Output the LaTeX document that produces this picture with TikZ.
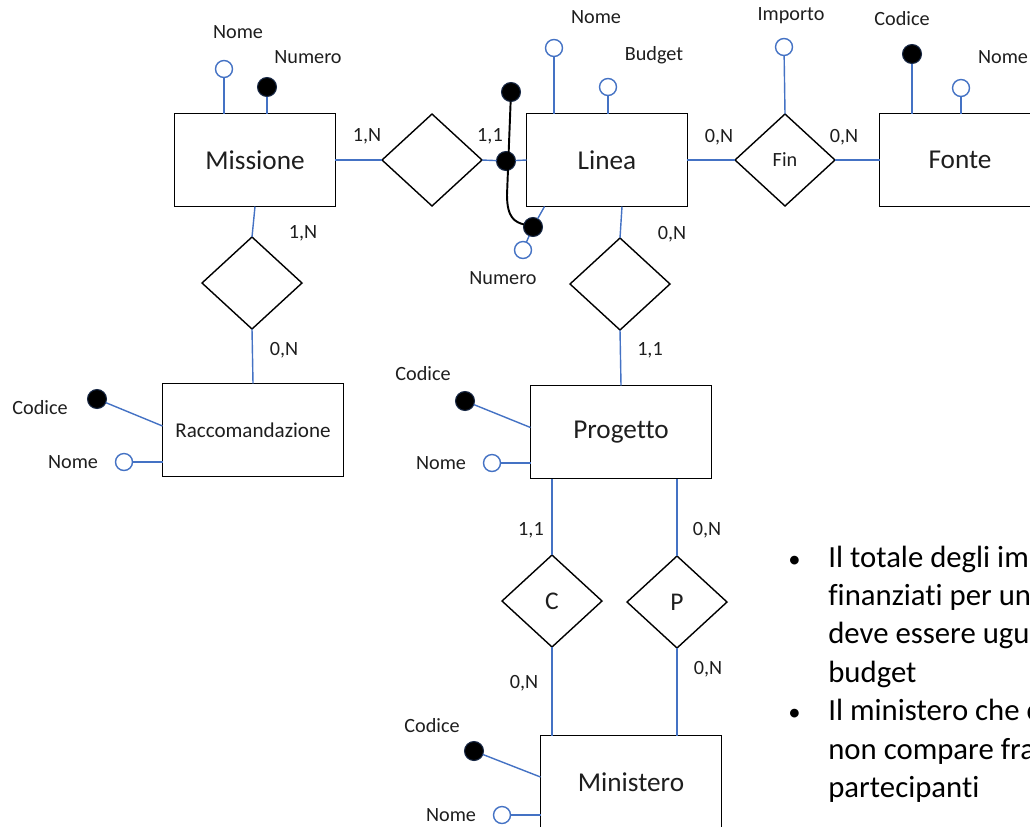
\documentclass[tikz,border=0pt]{standalone}
\usepackage{fontspec}
\setmainfont{Carlito}[Ligatures=NoCommon]
\usetikzlibrary{shapes.geometric}

\definecolor{erblu}{HTML}{4472C4}
\definecolor{testo}{HTML}{1E1E1E}

\newcommand{\punto}{{\fontsize{14}{21.9}\selectfont\textbullet}}

\tikzset{
  entita/.style={draw, line width=0.8pt, minimum width=3.22cm, minimum height=1.86cm,
    inner sep=0pt, outer sep=0pt, text=testo, font=\fontsize{15.5}{18}\selectfont},
  entitalarga/.style={entita, minimum width=3.62cm},
  relazione/.style={draw, diamond, line width=0.8pt, minimum width=2cm, minimum height=1.84cm,
    inner sep=0pt, outer sep=0pt, text=testo, font=\fontsize{14.5}{17}\selectfont},
  attr/.style={circle, draw=erblu, fill=white, line width=0.8pt, minimum size=0.34cm,
    inner sep=0pt, outer sep=0pt},
  chiave/.style={circle, draw=erblu!35!black, fill=black, line width=0.6pt, minimum size=0.38cm,
    inner sep=0pt, outer sep=0pt},
  link/.style={draw=erblu, line width=0.8pt},
  etich/.style={inner sep=0pt, text=testo, font=\fontsize{11.5}{13}\selectfont},
}

\begin{document}
\begin{tikzpicture}[x=0.02cm, y=-0.02cm]
  % Cornice: la schermata e' tagliata a destra e in basso
  \useasboundingbox (0,0) rectangle (1030,826);
  \clip (0,0) rectangle (1030,826);

  % Entita'
  \node[entita] (missione) at (255,160) {Missione};
  \node[entita] (linea) at (607,160) {Linea};
  \node[entita] (fonte) at (960,160) {Fonte};
  \node[entitalarga, font=\fontsize{12}{14}\selectfont] (raccom) at (253,430) {Raccomandazione};
  \node[entitalarga] (progetto) at (621,432) {Progetto};
  \node[entitalarga] (ministero) at (631,782) {Ministero};

  % Relazioni
  \node[relazione] (r-ml) at (432,160) {};
  \node[relazione, font=\fontsize{11.5}{13}\selectfont] (fin) at (785,160) {Fin};
  \node[relazione] (r-mr) at (252,283) {};
  \node[relazione] (r-lp) at (620,284) {};
  \node[relazione] (c) at (552,601) {C};
  \node[relazione] (p) at (677,602) {P};

  % Attributi (pallino pieno = identificatore)
  \node[attr] (mi-nome) at (224,69) {};
  \node[chiave] (mi-num) at (267,87) {};
  \node[attr] (li-nome) at (554,48) {};
  \node[attr] (li-budget) at (608,87) {};
  \node[attr] (li-num) at (523,250) {};
  \node[attr] (fi-imp) at (784,47) {};
  \node[chiave] (fo-cod) at (912,54) {};
  \node[attr] (fo-nome) at (961,88) {};
  \node[chiave] (ra-cod) at (97,399) {};
  \node[attr] (ra-nome) at (124,462) {};
  \node[chiave] (pr-cod) at (465,401) {};
  \node[attr] (pr-nome) at (492,463) {};
  \node[chiave] (mn-cod) at (474,751) {};
  \node[attr] (mn-nome) at (502,815) {};

  % Identificatore esterno di Linea
  \node[chiave] (id-top) at (511,92) {};
  \node[chiave] (id-mid) at (506,161) {};
  \node[chiave] (id-bot) at (533,227) {};

  % Nomi degli attributi
  \node[etich] at (238,32) {Nome};
  \node[etich] at (308,57) {Numero};
  \node[etich] at (596,17) {Nome};
  \node[etich] at (654,55) {Budget};
  \node[etich] at (503,278) {Numero};
  \node[etich] at (791,16) {Importo};
  \node[etich] at (902,19) {Codice};
  \node[etich] at (1003,57) {Nome};
  \node[etich] at (40,408) {Codice};
  \node[etich] at (73,462) {Nome};
  \node[etich] at (423,374) {Codice};
  \node[etich] at (441,463) {Nome};
  \node[etich] at (432,726) {Codice};
  \node[etich] at (451,815) {Nome};

  % Cardinalita'
  \node[etich] at (367,136) {1,N};
  \node[etich] at (490,136) {1,1};
  \node[etich] at (719,137) {0,N};
  \node[etich] at (844,137) {0,N};
  \node[etich] at (303,233) {1,N};
  \node[etich] at (284,350) {0,N};
  \node[etich] at (672,234) {0,N};
  \node[etich] at (650,350) {1,1};
  \node[etich] at (531,530) {1,1};
  \node[etich] at (707,530) {0,N};
  \node[etich] at (524,683) {0,N};
  \node[etich] at (708,669) {0,N};

  % Collegamenti entita'-relazioni
  \draw[link] (missione.east) -- (r-ml.west);
  \draw[link] (r-ml.east) -- (id-mid);
  \draw[link] (id-mid) -- (linea.west);
  \draw[link] (linea.east) -- (fin.west);
  \draw[link] (fin.east) -- (fonte.west);
  \draw[link] (missione.south) -- (r-mr.north);
  \draw[link] (r-mr.south) -- (raccom.north);
  \draw[link] ([xshift=0.3cm]linea.south) -- (r-lp.north);
  \draw[link] (r-lp.south) -- (progetto.north);
  \draw[link] (c.north) -- (c.north |- progetto.south);
  \draw[link] (p.north) -- (p.north |- progetto.south);
  \draw[link] (c.south) -- (c.south |- ministero.north);
  \draw[link] (p.south) -- (p.south |- ministero.north);

  % Collegamenti degli attributi
  \draw[link] (mi-nome) -- (mi-nome |- missione.north);
  \draw[link] (mi-num) -- (mi-num |- missione.north);
  \draw[link] (li-nome) -- (li-nome |- linea.north);
  \draw[link] (li-budget) -- (li-budget |- linea.north);
  \draw[link] (li-num) -- (id-bot);
  \draw[link] (id-bot) -- ([xshift=0.36cm]linea.south west);
  \draw[link] (fi-imp) -- (fin.north);
  \draw[link] (fo-cod) -- (fo-cod |- fonte.north);
  \draw[link] (fo-nome) -- (fo-nome |- fonte.north);
  \draw[link] (ra-cod) -- ([yshift=0.08cm]raccom.west);
  \draw[link] (ra-nome) -- (ra-nome -| raccom.west);
  \draw[link] (pr-cod) -- ([yshift=0.09cm]progetto.west);
  \draw[link] (pr-nome) -- (pr-nome -| progetto.west);
  \draw[link] (mn-cod) -- ([yshift=0.1cm]ministero.west);
  \draw[link] (mn-nome) -- (mn-nome -| ministero.west);

  % Linea dell'identificatore esterno
  \draw[black, line width=1.1pt] (id-top) -- (507,195)
    .. controls (507,218) and (515,222) .. (id-bot);

  % Vincoli
  \node[anchor=base west, inner sep=0pt, text=black, font=\fontsize{17.5}{21.9}\selectfont]
    (vincoli) at (788,567) {%
    \begin{tabular}[t]{@{}p{0.8cm}@{}l@{}}
      \punto & Il totale degli importi\\
             & finanziati per una linea\\
             & deve essere uguale al\\
             & budget\\
      \punto & Il ministero che coordina\\
             & non compare fra i\\
             & partecipanti
    \end{tabular}};
\end{tikzpicture}
\end{document}
